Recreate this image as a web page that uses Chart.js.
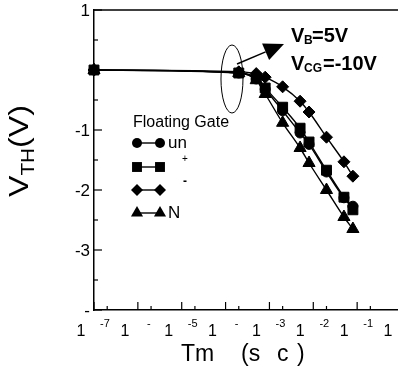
<!DOCTYPE html>
<html>
<head>
<meta charset="utf-8">
<script src="https://cdn.jsdelivr.net/npm/chart.js@4"></script>
<style>
  html, body { margin: 0; padding: 0; background: #fff; }
  #wrap { width: 398px; height: 371px; }
</style>
</head>
<body>
<div id="wrap"><canvas id="vth-chart" width="398" height="371"></canvas></div>
<script>
// pulse time (s) and threshold voltage (V) per floating gate type
const times = [1e-7, 2e-4, 5e-4, 8e-4, 2e-3, 5e-3, 8e-3, 2e-2, 5e-2, 8e-2];
const vthUn    = [0, -0.05, -0.15, -0.32, -0.68, -1.05, -1.24, -1.70, -2.13, -2.27];
const vthPlus  = [0, -0.05, -0.13, -0.30, -0.62, -0.97, -1.20, -1.67, -2.12, -2.33];
const vthMinus = [0, -0.03, -0.06, -0.12, -0.28, -0.52, -0.70, -1.12, -1.53, -1.77];
const vthN     = [0, -0.05, -0.17, -0.40, -0.88, -1.30, -1.55, -2.00, -2.45, -2.65];

const seriesNames = ['un', '+', '-', 'N'];
const seriesStyles = ['circle', 'rect', 'rectRot', 'triangle'];

// tick labels as they appear on the figure
const yTickValues = [1, 0, -1, -2, -3, -4];
const yTickLabels = ['1', '', '-1', '-2', '-3', '-'];
const xTickValues = [1e-7, 1e-6, 1e-5, 1e-4, 1e-3, 1e-2, 1e-1, 1e0];
const xTickExponents = ['-7', '-', '-5', '-', '-3', '-2', '-1', ''];

const FONT = '"Liberation Sans", Arial, sans-serif';

function makeSeries(label, values, style, radius, order) {
  return {
    label: label,
    data: times.map((t, i) => ({ x: t, y: values[i] })),
    pointStyle: style,
    pointRadius: radius,
    pointBackgroundColor: '#000',
    pointBorderColor: '#000',
    pointBorderWidth: 1,
    borderColor: '#000',
    borderWidth: 1.4,
    showLine: true,
    cubicInterpolationMode: 'monotone',
    clip: false,
    order: order
  };
}

// marker shapes for the legend, same geometry as Chart.js points
function drawMarker(ctx, style, x, y, r) {
  ctx.beginPath();
  if (style === 'circle') {
    ctx.arc(x, y, r, 0, Math.PI * 2);
  } else if (style === 'rect') {
    const s = r * Math.SQRT1_2;
    ctx.rect(x - s, y - s, 2 * s, 2 * s);
  } else if (style === 'rectRot') {
    ctx.moveTo(x - r, y);
    ctx.lineTo(x, y - r);
    ctx.lineTo(x + r, y);
    ctx.lineTo(x, y + r);
    ctx.closePath();
  } else if (style === 'triangle') {
    const w = r * Math.sqrt(3) / 2;
    ctx.moveTo(x, y - r);
    ctx.lineTo(x + w, y + r / 2);
    ctx.lineTo(x - w, y + r / 2);
    ctx.closePath();
  }
  ctx.fill();
}

const overlay = {
  id: 'overlay',
  afterDraw(chart) {
    const ctx = chart.ctx;
    const area = chart.chartArea;
    const xs = chart.scales.x, ys = chart.scales.y;
    ctx.save();
    ctx.strokeStyle = '#000';
    ctx.fillStyle = '#000';

    // top frame line
    ctx.lineWidth = 1.5;
    ctx.beginPath();
    ctx.moveTo(area.left, area.top);
    ctx.lineTo(area.right, area.top);
    ctx.stroke();

    // inward ticks
    ctx.lineWidth = 1.2;
    for (let v = -4; v <= 1; v += 0.5) {
      const py = ys.getPixelForValue(v);
      const len = Number.isInteger(v) ? 8 : 4;
      ctx.beginPath();
      ctx.moveTo(area.left, py);
      ctx.lineTo(area.left + len, py);
      ctx.stroke();
    }
    xTickValues.forEach(v => {
      const px = xs.getPixelForValue(v);
      ctx.beginPath();
      ctx.moveTo(px, area.bottom);
      ctx.lineTo(px, area.bottom - 8);
      ctx.stroke();
      const pm = xs.getPixelForValue(v * 2);
      if (pm < area.right) {
        ctx.beginPath();
        ctx.moveTo(pm, area.bottom);
        ctx.lineTo(pm, area.bottom - 4);
        ctx.stroke();
      }
    });

    // y tick labels
    ctx.font = '17px ' + FONT;
    ctx.textAlign = 'right';
    ctx.textBaseline = 'middle';
    yTickValues.forEach((v, i) => {
      ctx.fillText(yTickLabels[i], area.left - 4, ys.getPixelForValue(v) + 1);
    });

    // x tick labels: base and exponent
    xTickValues.forEach((v, i) => {
      const px = xs.getPixelForValue(v);
      ctx.textAlign = 'center';
      ctx.font = '16px ' + FONT;
      ctx.fillText('1', px - 13, area.bottom + 22);
      ctx.font = '11px ' + FONT;
      ctx.fillText(xTickExponents[i], px + 11, area.bottom + 14);
    });

    // x axis title
    ctx.font = '23px ' + FONT;
    ctx.textAlign = 'left';
    ctx.fillText('Tm', 181, 355);
    ctx.fillText('(s', 241, 355);
    ctx.fillText('c', 277, 355);
    ctx.fillText(')', 297, 355);

    // y axis title, rotated and a bit stretched
    ctx.save();
    ctx.translate(28, 151);
    ctx.rotate(-Math.PI / 2);
    ctx.scale(1.15, 1);
    ctx.textAlign = 'left';
    ctx.textBaseline = 'alphabetic';
    const big = '28px ' + FONT, small = '18px ' + FONT;
    ctx.font = big;
    const wV = ctx.measureText('V').width;
    const wP = ctx.measureText('(V)').width;
    ctx.font = small;
    const wT = ctx.measureText('TH').width;
    let cx = -(wV + wT + wP) / 2;
    ctx.font = big;
    ctx.fillText('V', cx, 0);
    cx += wV;
    ctx.font = small;
    ctx.fillText('TH', cx, 6);
    cx += wT;
    ctx.font = big;
    ctx.fillText('(V)', cx, 0);
    ctx.restore();

    // legend
    ctx.font = '16px ' + FONT;
    ctx.textAlign = 'left';
    ctx.fillText('Floating Gate', 133, 123);
    const rowY = [143, 167, 190, 213];
    const radii = [5, 7, 6, 7];
    rowY.forEach((ry, i) => {
      ctx.lineWidth = 1.4;
      ctx.beginPath();
      ctx.moveTo(137, ry);
      ctx.lineTo(160, ry);
      ctx.stroke();
      drawMarker(ctx, seriesStyles[i], 137, ry, radii[i]);
      drawMarker(ctx, seriesStyles[i], 160, ry, radii[i]);
    });
    ctx.font = '17px ' + FONT;
    ctx.fillText(seriesNames[0], 168, rowY[0]);
    ctx.fillText(seriesNames[3], 168, rowY[3]);
    ctx.font = '10px ' + FONT;
    ctx.fillText(seriesNames[1], 182, 159);
    ctx.font = 'bold 12px ' + FONT;
    ctx.fillText(seriesNames[2], 183, 182);

    // ellipse around the curve bundle
    ctx.lineWidth = 1;
    ctx.beginPath();
    ctx.ellipse(xs.getPixelForValue(1.4e-4), ys.getPixelForValue(-0.15), 11, 34, 0, 0, Math.PI * 2);
    ctx.stroke();

    // arrow
    const x0 = 237, y0 = 64, x1 = 284, y1 = 44;
    const dx = x1 - x0, dy = y1 - y0, L = Math.hypot(dx, dy);
    const ux = dx / L, uy = dy / L;
    const bx = x1 - 20 * ux, by = y1 - 20 * uy;
    ctx.lineWidth = 1.5;
    ctx.beginPath();
    ctx.moveTo(x0, y0);
    ctx.lineTo(bx, by);
    ctx.stroke();
    ctx.beginPath();
    ctx.moveTo(x1, y1);
    ctx.lineTo(bx - 9 * uy, by + 9 * ux);
    ctx.lineTo(bx + 9 * uy, by - 9 * ux);
    ctx.closePath();
    ctx.fill();

    // bias conditions
    ctx.textAlign = 'left';
    ctx.textBaseline = 'alphabetic';
    ctx.font = 'bold 20px ' + FONT;
    ctx.fillText('V', 291, 42);
    ctx.fillText('V', 291, 70);
    ctx.font = 'bold 12px ' + FONT;
    ctx.fillText('B', 304, 44);
    ctx.fillText('CG', 304, 72);
    ctx.font = 'bold 20px ' + FONT;
    ctx.fillText('=5V', 312, 42);
    ctx.fillText('=-10V', 323, 70);

    ctx.restore();
  }
};

new Chart(document.getElementById('vth-chart'), {
  type: 'scatter',
  data: {
    datasets: [
      makeSeries(seriesNames[0], vthUn, seriesStyles[0], 5, 3),
      makeSeries(seriesNames[1], vthPlus, seriesStyles[1], 7, 2),
      makeSeries(seriesNames[2], vthMinus, seriesStyles[2], 6, 1),
      makeSeries(seriesNames[3], vthN, seriesStyles[3], 7, 0)
    ]
  },
  options: {
    responsive: false,
    animation: false,
    devicePixelRatio: 1,
    events: [],
    layout: { autoPadding: false, padding: { left: 94, top: 10, right: 0, bottom: 61 } },
    plugins: { legend: { display: false }, tooltip: { enabled: false } },
    scales: {
      x: {
        type: 'logarithmic',
        min: 1e-7,
        max: 0.854, // the frame is cut just short of 10^0 on the figure
        ticks: { display: false },
        grid: { display: false, drawTicks: false },
        border: { display: true, color: '#000', width: 1.5 }
      },
      y: {
        type: 'linear',
        min: -4,
        max: 1,
        ticks: { display: false },
        grid: { display: false, drawTicks: false },
        border: { display: true, color: '#000', width: 1.5 }
      }
    }
  },
  plugins: [overlay]
});
</script>
</body>
</html>
